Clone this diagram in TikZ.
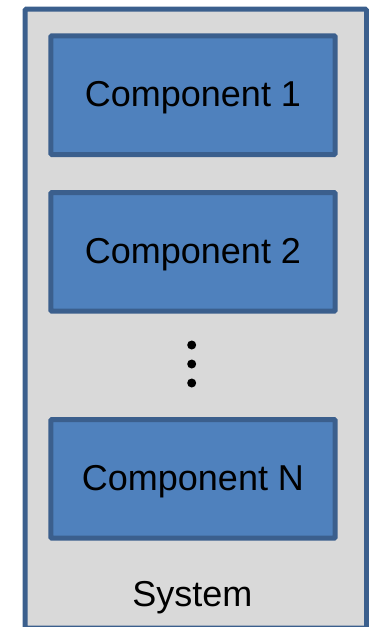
\documentclass[tikz,border=0pt]{standalone}
\usepackage{fontspec}
\setmainfont{Liberation Sans}
\definecolor{sysfill}{HTML}{D9D9D9}
\definecolor{edgeblue}{HTML}{3B5F8D}
\definecolor{compfill}{HTML}{4F81BD}
\begin{document}
\begin{tikzpicture}[x=1pt,y=-1pt,
  sysbox/.style={draw=edgeblue,fill=sysfill,line width=5pt,rounded corners=1.5pt},
  compbox/.style={draw=edgeblue,fill=compfill,line width=5pt,rounded corners=1pt,
    minimum width=284.4pt,minimum height=118.7pt,inner sep=0pt,
    text height=23pt,text depth=0pt,
    font=\fontsize{36}{40}\selectfont,text=black},
  dotmark/.style={fill=black,circle,inner sep=0pt,minimum size=9pt}]
\useasboundingbox (0,0) rectangle (368,627);
\node[sysbox,inner sep=0pt,minimum width=341.7pt,minimum height=619pt,anchor=north west] (sys) at (22.5,6.5) {};
\node[compbox] (c1) at (193,95.15) {Component 1};
\node[compbox] (c2) at (193,251.85) {Component 2};
\node[compbox] (cn) at (193,478.85) {Component N};
\node[dotmark] (d1) at (191.7,345) {};
\node[dotmark] (d2) at (191.7,364) {};
\node[dotmark] (d3) at (191.7,383) {};
\node[font=\fontsize{36}{40}\selectfont,inner sep=0pt,anchor=base] (lbl) at (192.3,606.7) {System};
\end{tikzpicture}
\end{document}
